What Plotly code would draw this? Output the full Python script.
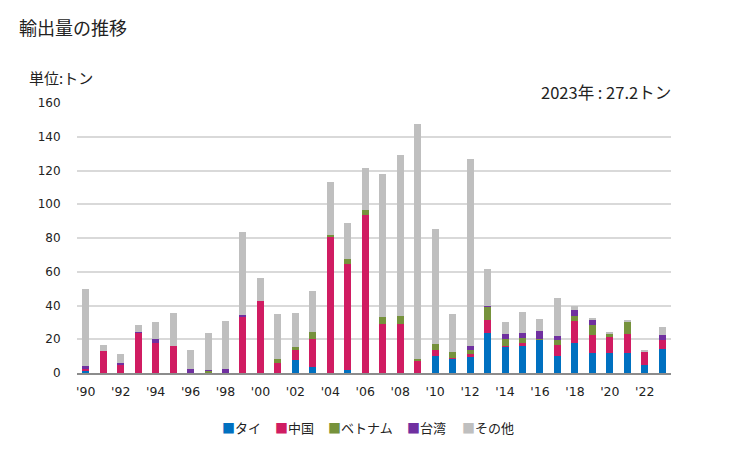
import plotly.graph_objects as go

years = list(range(1990, 2024))
thai = [1.0, 0, 0, 0, 0, 0, 0, 0, 0, 0, 0, 0, 7.9, 3.7, 0, 2.0, 0, 0, 0, 0,
        10.2, 8.5, 9.3, 23.8, 15.6, 16.1, 19.7, 10.2, 17.9, 12.0, 11.6, 12.0, 4.9, 14.4]
china = [1.4, 13.2, 4.5, 23.8, 17.9, 16.1, 0, 0, 0, 33.3, 42.7, 6.1, 5.9, 16.6, 81.1, 62.6, 93.5, 29.1, 29.1, 7.3,
         3.6, 0.6, 2.1, 7.7, 0.5, 1.8, 0, 6.5, 13.0, 10.6, 9.9, 11.2, 7.7, 5.3]
vietnam = [0, 0, 0, 0, 0, 0, 0, 1.4, 0, 0, 0, 2.4, 1.8, 4.1, 0.6, 2.9, 3.0, 4.2, 4.8, 1.2,
           3.5, 3.5, 2.4, 7.7, 4.2, 3.0, 0.6, 3.0, 3.0, 5.9, 1.7, 7.1, 0, 0]
taiwan = [2.0, 0, 1.6, 0.6, 2.4, 0, 2.6, 0.6, 2.6, 1.1, 0, 0, 0, 0, 0, 0, 0, 0, 0, 0,
          0, 0, 2.3, 0.6, 2.9, 2.9, 4.7, 2.3, 3.5, 3.0, 0, 0, 0, 2.9]
other = [45.4, 3.5, 5.3, 4.1, 10.0, 19.5, 11.2, 21.8, 28.3, 49.1, 13.6, 26.5, 20.0, 24.2, 31.3, 21.3, 24.8, 84.4, 95.0, 139.3,
         67.9, 22.4, 110.5, 21.8, 7.1, 12.4, 7.1, 22.5, 2.4, 0.6, 0.6, 1.2, 0.6, 4.6]

series_names = ["タイ", "中国", "ベトナム", "台湾", "その他"]
series_values = [thai, china, vietnam, taiwan, other]
series_colors = ["#0070c0", "#d01c62", "#76923c", "#7030a0", "#bfbfbf"]

tick_years = list(range(1990, 2023, 2))
tick_labels = ["'" + str(y)[2:] for y in tick_years]
y_ticks = [0, 20, 40, 60, 80, 100, 120, 140, 160]

FONT = "Noto Sans CJK JP"
TICKFONT = "DejaVu Sans"

# The page body has an 8px margin, so the figure is drawn 8px smaller
# and all positions below are expressed relative to the plot area.
PL, PR, PT, PB = 77, 671, 103, 373  # plot area in window pixels
W, H = 729 - 8, 450 - 8

def px_x(x):
    return (x - PL) / (PR - PL)

def px_y(y):
    return (PB - y) / (PB - PT)

fig = go.Figure()
for name, vals, col in zip(series_names, series_values, series_colors):
    fig.add_trace(go.Bar(x=years, y=vals, name=name, marker=dict(color=col, line=dict(width=0))))

legend_left = [219.5, 272.5, 325.5, 404.5, 459.5]
annotations = [
    dict(text="輸出量の推移", xref="paper", yref="paper", x=px_x(17), y=px_y(27), xanchor="left",
         yanchor="middle", showarrow=False, font=dict(size=18, family=FONT, color="#222222")),
    dict(text="単位:トン", xref="paper", yref="paper", x=px_x(27), y=px_y(77), xanchor="left",
         yanchor="middle", showarrow=False, font=dict(size=15, family=FONT, color="#222222")),
    dict(text="2023年 : 27.2トン", xref="paper", yref="paper", x=px_x(673), y=px_y(92), xanchor="right",
         yanchor="middle", showarrow=False, font=dict(size=16.5, family=FONT, color="#222222")),
]
for name, col, lx in zip(series_names, series_colors, legend_left):
    annotations.append(dict(
        text=f"<span style='color:{col}'>■</span>{name}", xref="paper", yref="paper",
        x=px_x(lx), y=px_y(427), xanchor="left", yanchor="middle", showarrow=False,
        font=dict(size=13, family=FONT, color="#222222")))

fig.update_layout(
    barmode="stack",
    bargap=0.6,
    width=W, height=H,
    margin=dict(l=PL - 8, r=W - (PR - 8), t=PT - 8, b=H - (PB - 8)),
    paper_bgcolor="white", plot_bgcolor="white",
    font=dict(family=FONT, size=13, color="#222222"),
    showlegend=False,
    xaxis=dict(range=[1989.5, 2023.5], tickvals=tick_years, ticktext=tick_labels,
               showgrid=False, showline=True, linecolor="#8c8c8c", linewidth=1.5,
               ticks="outside", ticklen=6, tickcolor="rgba(0,0,0,0)",
               tickfont=dict(size=12.5, family=TICKFONT, color="#222222"), zeroline=False),
    yaxis=dict(range=[0, 160], tickvals=y_ticks, showgrid=True, gridcolor="#d9d9d9", gridwidth=1.5,
               zeroline=False, showline=False, ticks="outside", ticklen=13, tickcolor="rgba(0,0,0,0)",
               tickfont=dict(size=12, family=TICKFONT, color="#222222")),
    annotations=annotations,
)

fig.write_html("out.html")
